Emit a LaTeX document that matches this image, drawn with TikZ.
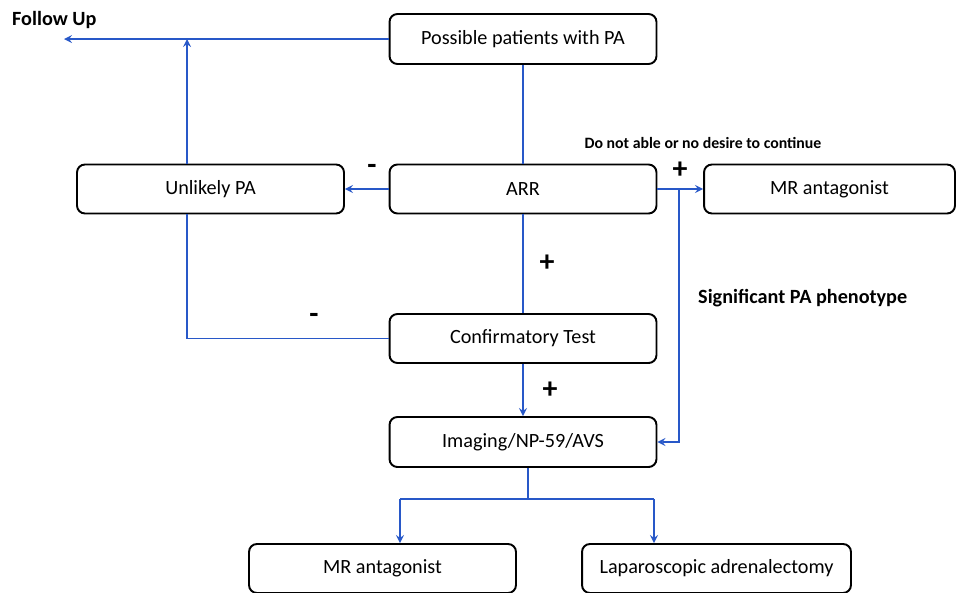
\documentclass[tikz,border=0pt]{standalone}
\usepackage{fontspec}
\setmainfont{Carlito}
\usetikzlibrary{arrows,positioning}
\definecolor{flowblue}{RGB}{40,88,200}
\tikzset{
	boxnode/.style={rectangle, rounded corners=4.5pt, draw=black, line width=1.1pt, minimum width=5.34cm, minimum height=0.98cm, font=\fontsize{11.5}{13}\selectfont},
	link/.style={draw=flowblue, line width=1pt},
	signlabel/.style={font=\bfseries\fontsize{17}{18}\selectfont},
	notelabel/.style={font=\bfseries\fontsize{11.5}{13}\selectfont}
}

\begin{document}
\begin{tikzpicture}[x=0.02cm, y=-0.02cm, >=stealth]
			\useasboundingbox (0,0) rectangle (962,592);
			% boxes
			\node[boxnode, minimum height=1cm] (possible) at (523,39) {Possible patients with PA};
			\node[boxnode] (unlikely) at (210.5,189) {Unlikely PA};
			\node[boxnode] (arr) at (523,189) {ARR};
			\node[boxnode, minimum width=5.02cm] (mrtop) at (829.5,189) {MR antagonist};
			\node[boxnode] (confirm) at (523,338.5) {Confirmatory Test};
			\node[boxnode, minimum height=1cm] (imaging) at (523,442) {Imaging/NP-59/AVS};
			\node[boxnode] (mrbottom) at (382.5,568.5) {MR antagonist};
			\node[boxnode, minimum width=5.38cm] (lapa) at (716.5,568.5) {Laparoscopic adrenalectomy};
			
			% texts
			\node[notelabel, anchor=west] (followup) at (6,20) {Follow Up};
			\node[font=\bfseries\fontsize{9}{11}\selectfont] (nodesire) at (703,143) {Do not able or no desire to continue};
			\node[notelabel, anchor=west] (phenotype) at (692,298) {Significant PA phenotype};
			\node[signlabel] (minusarr) at (372,169) {-};
			\node[signlabel] (plusarr) at (680,170) {+};
			\node[signlabel] (plusconf) at (547,263) {+};
			\node[signlabel] (minusconf) at (314,318) {-};
			\node[signlabel] (plusimg) at (550,390) {+};
			
			% joints
			\coordinate (fuend) at (64,39);
			\coordinate (upjoin) at (187,39);
			\coordinate (rjoin) at (679,189);
			\coordinate (split) at (528,499);
			\coordinate (lsplit) at (400,499);
			\coordinate (rsplit) at (654,499);
			
			% connectors
			\draw[link,->] (possible.west) -- (fuend);
			\draw[link,->] (unlikely.north -| upjoin) -- (upjoin);
			\draw[link] (possible.south) -- (arr.north);
			\draw[link,->] (arr.west) -- (unlikely.east);
			\draw[link,->] (arr.east) -- (mrtop.west);
			\draw[link,->] (rjoin) |- (imaging.east);
			\draw[link] (arr.south) -- (confirm.north);
			\draw[link] (unlikely.south -| upjoin) |- (confirm.west);
			\draw[link,->] (confirm.south) -- (imaging.north);
			\draw[link] (imaging.south -| split) -- (split);
			\draw[link] (lsplit) -- (rsplit);
			\draw[link,->] (lsplit) -- (lsplit |- mrbottom.north);
			\draw[link,->] (rsplit) -- (rsplit |- lapa.north);
		\end{tikzpicture}
\end{document}
